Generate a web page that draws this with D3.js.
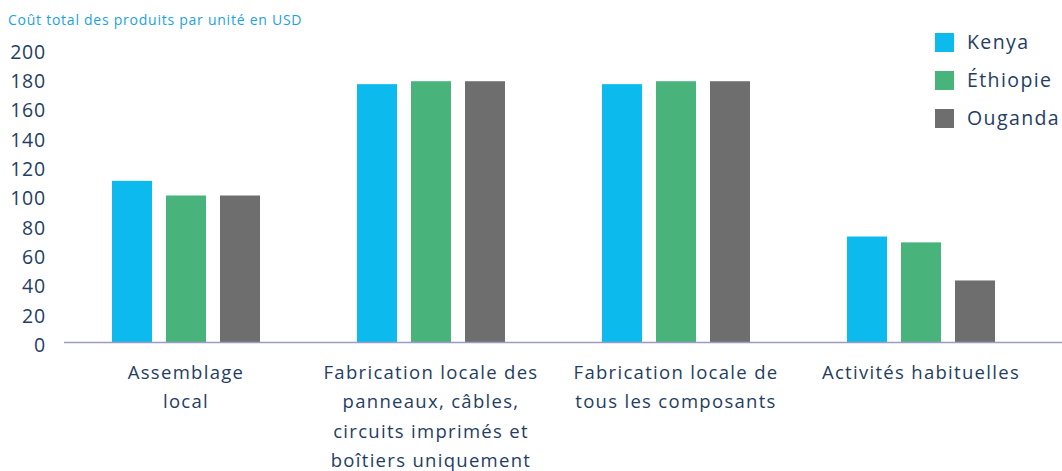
<!DOCTYPE html>
<html>
<head>
<meta charset="utf-8">
<script src="https://cdn.jsdelivr.net/npm/d3@7"></script>
<style>
  html, body { margin: 0; padding: 0; background: #fff; }
  svg { display: block; font-family: "Open Sans", Lato, sans-serif; }
</style>
</head>
<body>
<svg id="chart" width="1062" height="471"></svg>
<script>
// Coût total par unité (USD) selon le scénario de fabrication
const categories = [
  ["Assemblage", "local"],
  ["Fabrication locale des", "panneaux, câbles,", "circuits imprimés et", "boîtiers uniquement"],
  ["Fabrication locale de", "tous les composants"],
  ["Activités habituelles"]
];
const seriesNames = ["Kenya", "Éthiopie", "Ouganda"];
const kenya    = [110, 176, 176, 72];
const ethiopie = [100, 178, 178, 68];
const ouganda  = [100, 178, 178, 42];
const yTicks = [0, 20, 40, 60, 80, 100, 120, 140, 160, 180, 200];
const colors = ["#0dbaee", "#48b37b", "#6e6e6e"];

const series = [kenya, ethiopie, ouganda];
const svg = d3.select("#chart");
const textColor = "#253d63";

const x0 = d3.scaleBand().domain(d3.range(categories.length)).range([63.5, 1043.5]);
const x1 = d3.scaleBand().domain(d3.range(seriesNames.length)).range([0, 148]).paddingInner(14 / 54);
const y = d3.scaleLinear().domain([0, 200]).range([342, 49]);

// Titre de l'axe
svg.append("text")
  .attr("x", 8).attr("y", 25)
  .attr("fill", "#1aa3e0")
  .attr("font-size", 14)
  .attr("letter-spacing", 0.75)
  .text("Coût total des produits par unité en USD");

// Étiquettes de l'axe vertical
svg.append("g")
  .selectAll("text")
  .data(yTicks)
  .join("text")
  .attr("x", 46)
  .attr("y", d => y(d) + 3)
  .attr("dy", "0.35em")
  .attr("text-anchor", "end")
  .attr("fill", textColor)
  .attr("font-size", 19.5)
  .attr("letter-spacing", 0.8)
  .text(d => d);

// Barres
const groups = svg.append("g")
  .selectAll("g")
  .data(categories.map((c, i) => i))
  .join("g")
  .attr("transform", i => `translate(${x0(i) + (x0.bandwidth() - 148) / 2},0)`);

groups.selectAll("rect")
  .data(i => series.map((s, k) => ({ k, v: s[i] })))
  .join("rect")
  .attr("x", d => x1(d.k))
  .attr("width", x1.bandwidth())
  .attr("y", d => y(d.v))
  .attr("height", d => y(0) - y(d.v))
  .attr("fill", d => colors[d.k]);

// Ligne de base
svg.append("line")
  .attr("x1", 64).attr("x2", 1062)
  .attr("y1", y(0) + 0.5).attr("y2", y(0) + 0.5)
  .attr("stroke", "#9c9cc2")
  .attr("stroke-width", 1.5);

// Libellés des catégories
const labels = svg.append("g")
  .selectAll("text")
  .data(categories)
  .join("text")
  .attr("x", (d, i) => x0(i) + x0.bandwidth() / 2)
  .attr("y", 379)
  .attr("text-anchor", "middle")
  .attr("fill", textColor)
  .attr("font-size", 18.5)
  .attr("letter-spacing", 1.3);
labels.selectAll("tspan")
  .data(d => d)
  .join("tspan")
  .attr("x", function () { return this.parentNode.getAttribute("x"); })
  .attr("dy", (d, j) => j === 0 ? 0 : 29.4)
  .text(d => d);

// Légende
const legend = svg.append("g")
  .selectAll("g")
  .data(seriesNames)
  .join("g")
  .attr("transform", (d, i) => `translate(935,${33 + i * 38})`);
legend.append("rect")
  .attr("width", 19).attr("height", 19)
  .attr("fill", (d, i) => colors[i]);
legend.append("text")
  .attr("x", 32).attr("y", 9.5)
  .attr("dy", "0.35em")
  .attr("fill", textColor)
  .attr("font-size", 19.5)
  .attr("letter-spacing", 1.4)
  .text(d => d);
</script>
</body>
</html>
